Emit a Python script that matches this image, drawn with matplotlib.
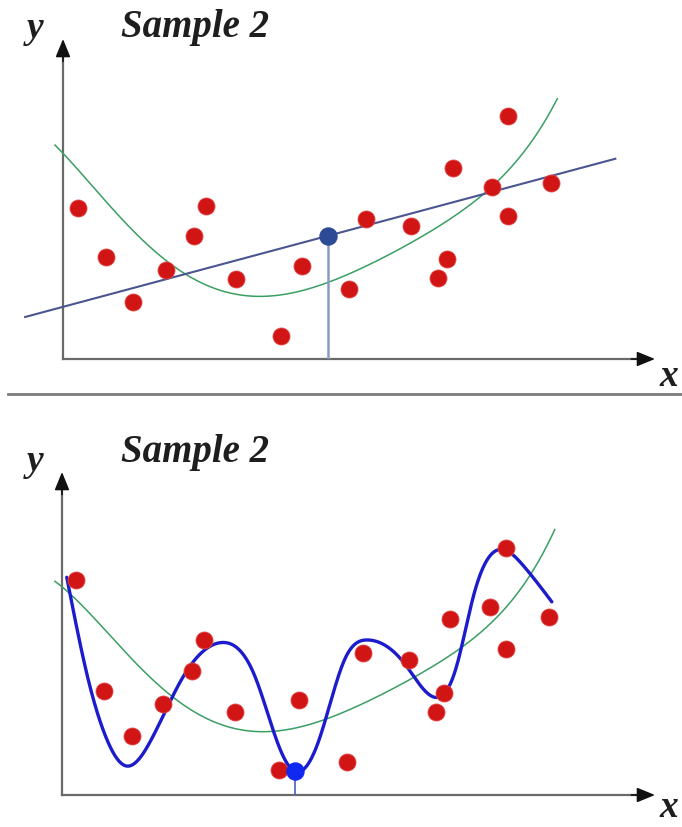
import numpy as np
import matplotlib
matplotlib.use("Agg")
import matplotlib.pyplot as plt
from numpy.polynomial import Polynomial

# ---------------- data ----------------
title_text = "Sample 2"

# upper panel: samples, straight-line fit, query point
top_x = [2.6, 7.3, 11.9, 17.4, 22.1, 24.2, 29.2, 36.9, 40.3, 48.3,
         51.1, 58.7, 63.3, 64.8, 65.9, 72.5, 75.1, 75.1, 82.4]
top_y = [47.1, 32.0, 17.9, 27.9, 38.3, 47.9, 25.1, 7.3, 29.0, 21.9,
         43.8, 41.5, 25.4, 31.2, 59.6, 53.8, 76.0, 44.6, 54.9]
line_intercept = 16.3
line_slope = 0.496
line_x_range = [-6.4, 93.3]
top_query_x = 44.7

# smooth trend curve (upper panel)
top_trend_x = [-1.35, 7.4, 17.5, 21.5, 25.3, 29.9, 33.3, 38.9, 44.7, 50.2,
               55.8, 61.4, 67.1, 70.2, 72.7, 77.8, 80.6, 82.5, 83.5]
top_trend_y = [67.2, 47.9, 30.7, 26.9, 22.5, 19.7, 19.0, 21.0, 23.7, 27.6,
               32.8, 39.6, 46.9, 50.5, 55.2, 63.5, 69.8, 77.1, 83.8]

# lower panel: samples, over-fitted curve, trend curve, query point
bot_x = [2.3, 7.1, 11.8, 17.1, 22.0, 24.0, 29.1, 36.6, 40.0, 48.1,
         50.8, 58.5, 63.0, 64.5, 65.5, 72.2, 74.9, 74.9, 82.1]
bot_y = [66.7, 32.1, 18.4, 28.2, 38.3, 48.1, 25.6, 7.8, 29.3, 10.1,
         43.9, 41.9, 25.8, 31.5, 54.5, 58.3, 76.4, 45.2, 55.0]

wiggle_x = [0.8, 4.4, 7.3, 10.8, 15.1, 20.2, 26.9, 32.5, 37.0, 39.2,
            43.2, 47.7, 51.5, 57.8, 63.0, 66.4, 69.4, 72.8, 77.8, 82.6]
wiggle_y = [67.4, 35.9, 18.4, 9.0, 17.3, 35.9, 47.2, 36.9, 13.2, 7.4,
            16.3, 42.1, 48.0, 40.6, 30.2, 39.0, 61.7, 75.2, 71.0, 59.8]

bot_trend_x = [-1.2, 4.4, 10.1, 15.7, 21.3, 26.9, 32.5, 37.0, 43.8, 49.4,
               55.0, 60.7, 66.3, 72.2, 76.7, 80.0, 82.3, 83.1]
bot_trend_y = [66.3, 56.6, 45.2, 34.9, 27.2, 22.0, 19.6, 20.1, 23.0, 26.6,
               31.8, 38.0, 45.2, 53.5, 61.7, 70.0, 78.2, 83.9]

bot_query_x = 39.3
bot_query_y = 7.3

# ---------------- helpers ----------------
W, H = 682, 828


def poly_curve(xk, yk, deg, n=600):
    p = Polynomial.fit(xk, yk, deg)
    xs = np.linspace(min(xk), max(xk), n)
    return xs, p(xs)


def natural_spline(xk, yk, n=900):
    x = np.asarray(xk, float)
    y = np.asarray(yk, float)
    h = np.diff(x)
    m = len(x)
    A = np.zeros((m, m))
    r = np.zeros(m)
    A[0, 0] = A[-1, -1] = 1.0
    for i in range(1, m - 1):
        A[i, i - 1] = h[i - 1]
        A[i, i] = 2 * (h[i - 1] + h[i])
        A[i, i + 1] = h[i]
        r[i] = 3 * ((y[i + 1] - y[i]) / h[i] - (y[i] - y[i - 1]) / h[i - 1])
    c = np.linalg.solve(A, r)
    b = (y[1:] - y[:-1]) / h - h * (2 * c[:-1] + c[1:]) / 3
    d = (c[1:] - c[:-1]) / (3 * h)
    xs = np.linspace(x[0], x[-1], n)
    idx = np.clip(np.searchsorted(x, xs) - 1, 0, m - 2)
    dx = xs - x[idx]
    ys = y[idx] + b[idx] * dx + c[idx] * dx ** 2 + d[idx] * dx ** 3
    return xs, ys


def px_axes(fig, left, right, bottom, top):
    return fig.add_axes([left / W, 1 - bottom / H, (right - left) / W,
                         (bottom - top) / H])


serif = dict(family="Liberation Serif", weight="bold", style="italic",
             color="#1e1e1e")

RED = "#d11414"
GREEN = "#3a9f62"
AXIS_GREY = "#6a6a6a"


def draw_frame(ax):
    ax.set_xlim(0, 100)
    ax.set_ylim(0, 100)
    ax.axis("off")
    ax.plot([0, 0.97], [0, 0], transform=ax.transAxes, color=AXIS_GREY,
            lw=1.6, clip_on=False, zorder=1)
    ax.plot([0, 0], [0, 0.95], transform=ax.transAxes, color=AXIS_GREY,
            lw=1.6, clip_on=False, zorder=1)
    head = dict(arrowstyle="-|>,head_length=1.1,head_width=0.45",
                color="#111111", lw=1.2, shrinkA=0, shrinkB=0)
    ax.annotate("", xy=(1.0, 0), xytext=(0.96, 0), xycoords="axes fraction",
                arrowprops=head, annotation_clip=False)
    ax.annotate("", xy=(0, 1.0), xytext=(0, 0.93), xycoords="axes fraction",
                arrowprops=head, annotation_clip=False)


fig = plt.figure(figsize=(W / 100, H / 100), dpi=100)
fig.patch.set_facecolor("white")

# ---------------- upper panel ----------------
ax1 = px_axes(fig, 63, 655, 360, 40)
draw_frame(ax1)

tx, ty = poly_curve(top_trend_x, top_trend_y, 5)
ax1.plot(tx, ty, color=GREEN, lw=1.1, clip_on=False, zorder=2)

lx = np.array(line_x_range)
ax1.plot(lx, line_intercept + line_slope * lx, color="#4b5590", lw=1.5,
         clip_on=False, zorder=3)

qy = line_intercept + line_slope * top_query_x
ax1.plot([top_query_x, top_query_x], [0, qy], color="#8a98c4", lw=1.8,
         zorder=2)
ax1.scatter(top_x, top_y, s=150, color=RED, edgecolors="#e04848",
            linewidths=0.6, zorder=4, clip_on=False)
ax1.scatter([top_query_x], [qy], s=150, color="#2c4a96", zorder=5)

fig.text(35 / W, 1 - 29 / H, "y", fontsize=27, ha="center", va="center",
         **serif)
fig.text(195 / W, 1 - 28 / H, title_text, fontsize=28, ha="center",
         va="center", **serif)
fig.text(669 / W, 1 - 377 / H, "x", fontsize=27, ha="center", va="center",
         **serif)

# divider between panels
fig.add_artist(plt.Line2D([8 / W, 1], [1 - 395 / H, 1 - 395 / H],
                          color="#7a7a7a", lw=2.0))

# ---------------- lower panel ----------------
ax2 = px_axes(fig, 62, 655, 796, 473)
draw_frame(ax2)

gx, gy = poly_curve(bot_trend_x, bot_trend_y, 5)
ax2.plot(gx, gy, color=GREEN, lw=1.1, clip_on=False, zorder=2)

wx, wy = natural_spline(wiggle_x, wiggle_y)
ax2.plot(wx, wy, color="#1c1ccc", lw=2.4, zorder=3, solid_capstyle="round")

ax2.plot([bot_query_x, bot_query_x], [0, bot_query_y], color="#4a5fbf",
         lw=1.2, zorder=2)
ax2.scatter(bot_x, bot_y, s=150, color=RED, edgecolors="#e04848",
            linewidths=0.6, zorder=4, clip_on=False)
ax2.scatter([bot_query_x], [bot_query_y], s=150, color="#1028f0", zorder=5)

fig.text(35 / W, 1 - 462 / H, "y", fontsize=27, ha="center", va="center",
         **serif)
fig.text(195 / W, 1 - 453 / H, title_text, fontsize=28, ha="center",
         va="center", **serif)
fig.text(669 / W, 1 - 808 / H, "x", fontsize=27, ha="center", va="center",
         **serif)

fig.savefig("out.png", dpi=100, facecolor="white")
